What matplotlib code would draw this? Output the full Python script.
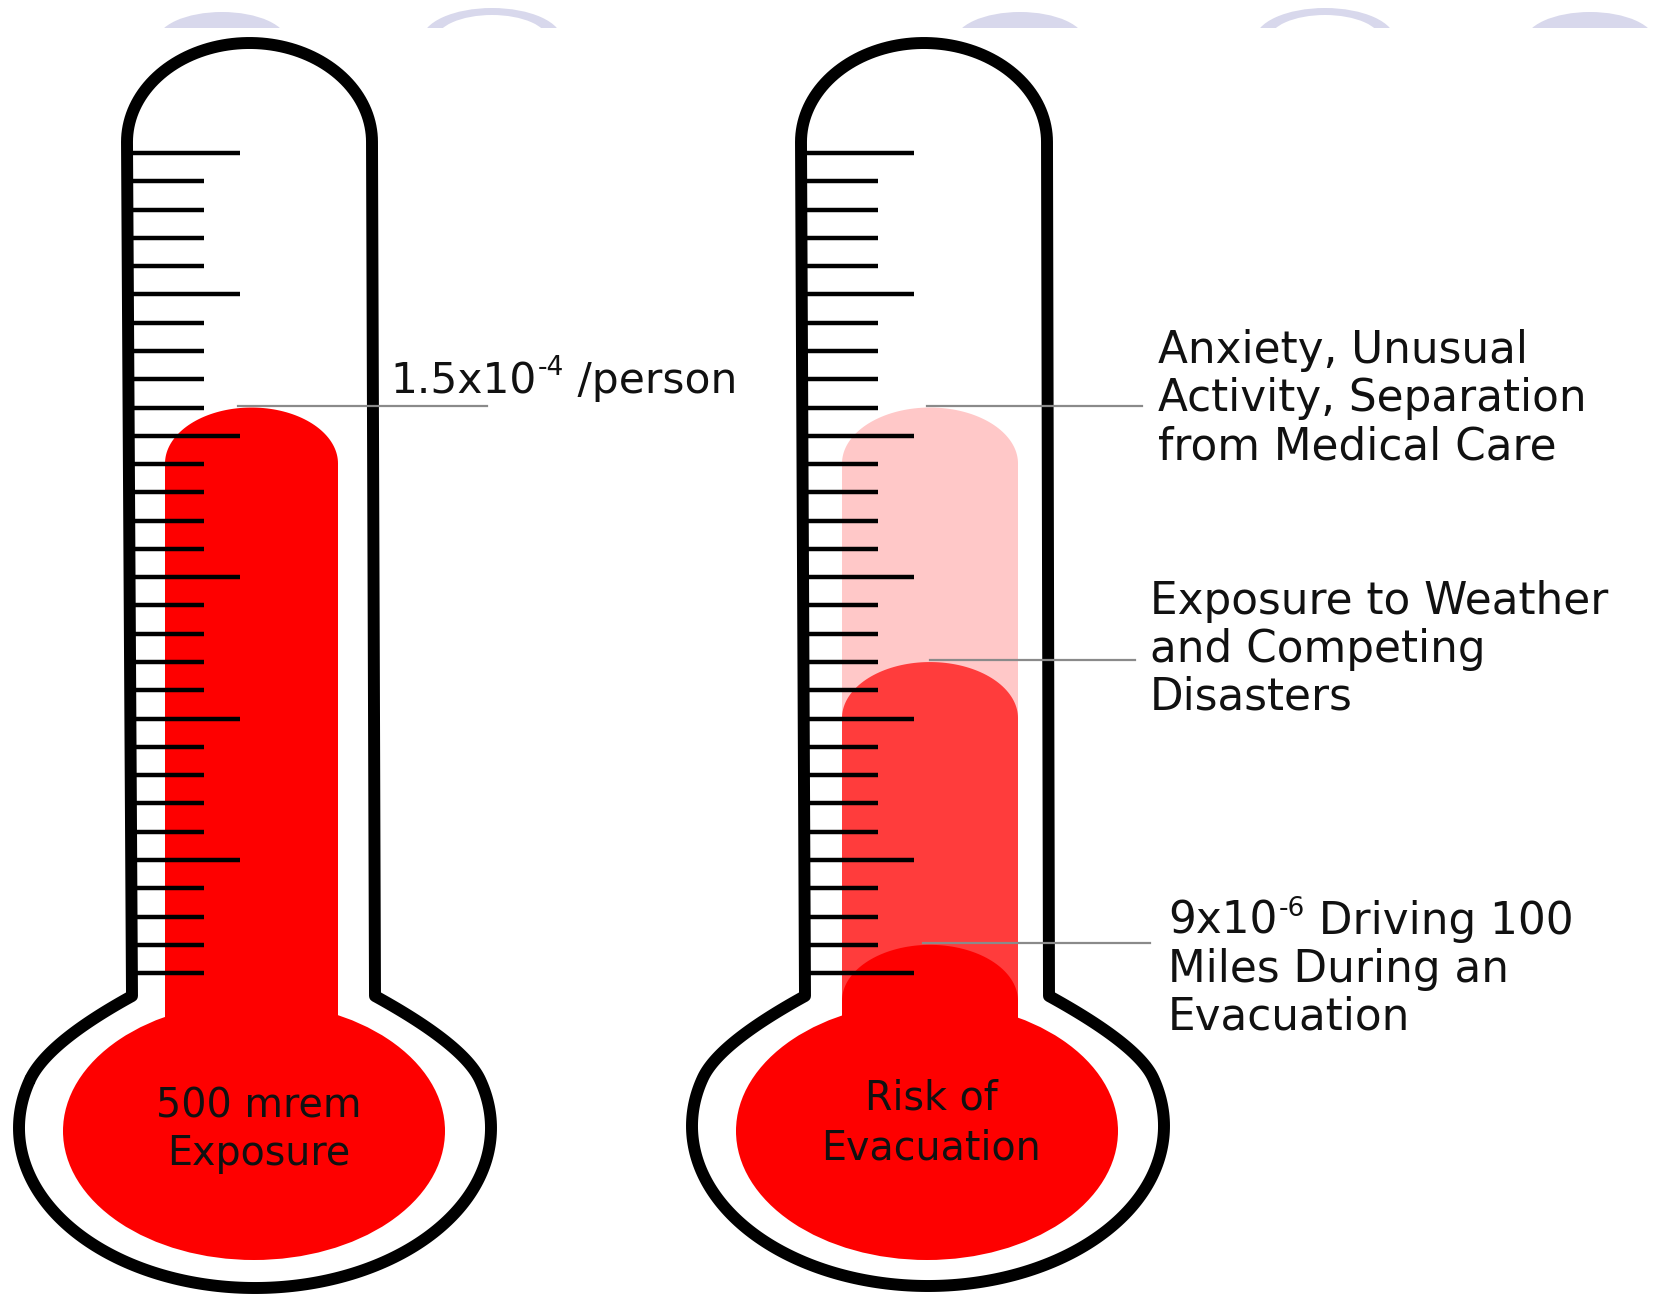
import numpy as np
import matplotlib
matplotlib.use("Agg")
import matplotlib.pyplot as plt
from matplotlib.path import Path
from matplotlib.patches import PathPatch, Ellipse, Rectangle

# ---------------- data ----------------
bulb_labels = [["500 mrem", "Exposure"], ["Risk of", "Evacuation"]]
n_ticks = 30                      # tick marks on each scale
major_every = 5                   # every 5th tick is long
extra_major = [[], [29]]          # additional long ticks per thermometer
fill_levels = [[9], [9, 18, 28]]  # fill tops, in tick index from the top tick
fill_colors = [["#fe0000"], ["#ffc8c8", "#ff3c3c", "#fe0000"]]
left_note = ["1.5x10", "-4", " /person"]
right_notes = [
    [["", "", "Anxiety, Unusual"], ["", "", "Activity, Separation"], ["", "", "from Medical Care"]],
    [["", "", "Exposure to Weather"], ["", "", "and Competing"], ["", "", "Disasters"]],
    [["9x10", "-6", " Driving 100"], ["", "", "Miles During an"], ["", "", "Evacuation"]],
]
deco_kind = ["dome", "ring", "dome", "ring", "dome"]

# ---------------- layout (pixel coordinates) ----------------
W, H = 1658, 1298
fig = plt.figure(figsize=(W / 100, H / 100), dpi=100)
ax = fig.add_axes([0, 0, 1, 1])
ax.set_xlim(0, W)
ax.set_ylim(H, 0)
ax.axis("off")

TICK_Y0, TICK_DY = 153.0, 28.28
TUBE_L = [(127, 132), (801, 805)]
TUBE_R = [(372, 375), (1047, 1049)]
ARCH_BASE, ARCH_TOP = 142, 43
NECK_Y = 996
BULB_C = [(255, 1128), (928, 1126)]
BULB_A, BULB_B = 236, 160
JOIN_S = 0.30
SHOULDER_SLOPE = 0.55
RED_C = [(254, 1131), (927, 1131)]
RED_A, RED_B = 191, 129
COL_X = [(165, 338), (842, 1018)]
CAP_H = 56
COL_BOTTOM = 1090
SHORT_LEN, LONG_LEN = 75, 111
LEADERS = [[(238, 487)], [(927, 1142), (930, 1135), (923, 1150)]]
NOTE_POS = [(1158, 363), (1150, 614), (1168, 934)]
NOTE_DY = 48
LEFT_NOTE_POS = (390, 393)
BULB_TEXT = [(259, 1118, 47), (931, 1109, 50)]
DECO_X = [222, 492, 1020, 1325, 1590]
LAV = "#d8d8ec"
OUTLINE_LW = 8.6
TEXT_C = "#111111"
FONT = "DejaVu Sans"
NOTE_FS, SUP_FS, LEFT_FS, BULB_FS = 31.5, 19, 30.5, 28.5


def tick_y(i):
    return TICK_Y0 + i * TICK_DY


def shoulder(N, side, cx, cy):
    """Quadratic curve from neck point N into the bulb ellipse (smooth at the ellipse)."""
    g = np.arcsin(JOIN_S)
    phi = g if side > 0 else np.pi - g
    P = np.array([cx + BULB_A * np.cos(phi), cy - BULB_B * np.sin(phi)])
    T = np.array([-BULB_A * np.sin(phi), -BULB_B * np.cos(phi)])
    d = np.array([side * 1.0, SHOULDER_SLOPE])
    M = np.column_stack([d, -T])
    t, u = np.linalg.solve(M, P - np.asarray(N, float))
    C = np.asarray(N, float) + t * d
    s = np.linspace(0, 1, 40)[:, None]
    return (1 - s) ** 2 * np.asarray(N, float) + 2 * (1 - s) * s * C + s ** 2 * P, phi


def outline_path(i):
    lt, lb = TUBE_L[i]
    rt, rb = TUBE_R[i]
    cxt, at = (lt + rt) / 2, (rt - lt) / 2
    bt = ARCH_BASE - ARCH_TOP
    th = np.linspace(np.pi, 0, 80)
    arch = np.c_[cxt + at * np.cos(th), ARCH_BASE - bt * np.sin(th)]
    cx, cy = BULB_C[i]
    sh_r, phi_r = shoulder((rb, NECK_Y), +1, cx, cy)
    sh_l, phi_l = shoulder((lb, NECK_Y), -1, cx, cy)
    ph = np.linspace(phi_r, phi_l - 2 * np.pi, 200)
    bulb = np.c_[cx + BULB_A * np.cos(ph), cy - BULB_B * np.sin(ph)]
    pts = np.vstack([arch, sh_r, bulb, sh_l[::-1], arch[:1]])
    return Path(pts, closed=True)


def column_path(x0, x1, ytop, ybot=COL_BOTTOM, cap=CAP_H):
    cx, a = (x0 + x1) / 2, (x1 - x0) / 2
    th = np.linspace(np.pi, 0, 80)
    arc = np.c_[cx + a * np.cos(th), ytop + cap - cap * np.sin(th)]
    pts = np.vstack([[[x0, ybot]], arc, [[x1, ybot]], [[x0, ybot]]])
    return Path(pts, closed=True)


# decorations at top edge (clipped)
clip = Rectangle((0, 0), W, 28, transform=ax.transData)
for x, kind in zip(DECO_X, deco_kind):
    if kind == "dome":
        e = Ellipse((x, 42), 131, 60, facecolor=LAV, edgecolor="none", zorder=1)
        ax.add_patch(e)
        e.set_clip_path(clip)
    else:
        e1 = Ellipse((x, 40), 140, 64, facecolor=LAV, edgecolor="none", zorder=1)
        e2 = Ellipse((x, 40), 112, 50, facecolor="white", edgecolor="none", zorder=1.1)
        for e in (e1, e2):
            ax.add_patch(e)
            e.set_clip_path(clip)

for i in range(2):
    # body
    ax.add_patch(PathPatch(outline_path(i), facecolor="white", edgecolor="black",
                           lw=OUTLINE_LW, joinstyle="round", zorder=2))
    # fills
    x0, x1 = COL_X[i]
    for lvl, col in zip(fill_levels[i], fill_colors[i]):
        ax.add_patch(PathPatch(column_path(x0, x1, tick_y(lvl)), facecolor=col,
                               edgecolor="none", zorder=3))
    ax.add_patch(Ellipse(RED_C[i], 2 * RED_A, 2 * RED_B, facecolor="#fe0000",
                         edgecolor="none", zorder=3.5))
    # ticks
    xs = (TUBE_L[i][0] + TUBE_L[i][1]) / 2
    for k in range(n_ticks):
        long = (k % major_every == 0) or (k in extra_major[i])
        L = LONG_LEN if long else SHORT_LEN
        ax.plot([xs, xs + L], [tick_y(k), tick_y(k)], color="black", lw=3.2,
                solid_capstyle="butt", zorder=4)
    # leader lines
    for (a, b), lvl in zip(LEADERS[i], fill_levels[i]):
        ax.plot([a, b], [tick_y(lvl) - 2, tick_y(lvl) - 2], color="#8a8a8a", lw=1.6, zorder=5)
    # bulb label
    bx, by, bdy = BULB_TEXT[i]
    for j, line in enumerate(bulb_labels[i]):
        ax.text(bx, by + j * bdy, line, ha="center", va="baseline", fontsize=BULB_FS,
                color=TEXT_C, family=FONT, zorder=6)


def note_line(x, y, parts, fs=NOTE_FS, sfs=SUP_FS):
    base, sup, rest = parts
    if base:
        t = ax.text(x, y, base, ha="left", va="baseline", fontsize=fs, color=TEXT_C,
                    family=FONT, zorder=6)
        s = ax.annotate(sup, xy=(1, y - 18), xycoords=(t, "data"), xytext=(1, 0),
                        textcoords="offset points", ha="left", va="baseline",
                        fontsize=sfs, color=TEXT_C, family=FONT, zorder=6)
        ax.annotate(rest, xy=(1, y), xycoords=(s, "data"), ha="left", va="baseline",
                    fontsize=fs, color=TEXT_C, family=FONT, zorder=6)
    else:
        ax.text(x, y, rest, ha="left", va="baseline", fontsize=fs, color=TEXT_C,
                family=FONT, zorder=6)


note_line(LEFT_NOTE_POS[0], LEFT_NOTE_POS[1], left_note, fs=LEFT_FS)
for (nx, ny), lines in zip(NOTE_POS, right_notes):
    for j, parts in enumerate(lines):
        note_line(nx, ny + j * NOTE_DY, parts)

fig.savefig("out.png", dpi=100, facecolor="white")
